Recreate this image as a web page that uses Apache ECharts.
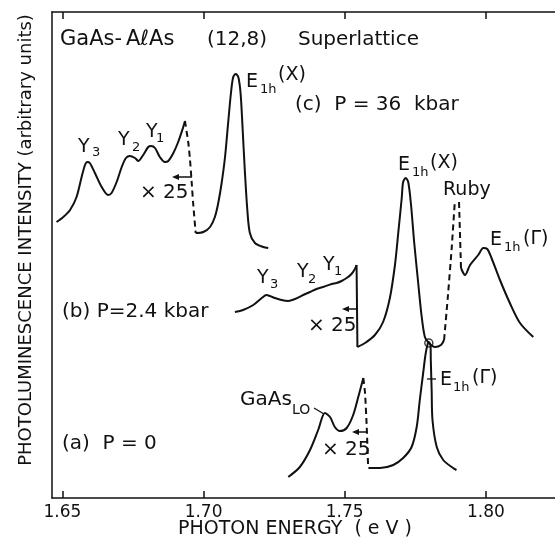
<!DOCTYPE html>
<html>
<head>
<meta charset="utf-8">
<script src="https://cdn.jsdelivr.net/npm/echarts@6/dist/echarts.min.js"></script>
<style>html,body{margin:0;padding:0;background:#fff;}#c{width:555px;height:548px;}</style>
</head>
<body>
<div id="c"></div>
<script>
// Tick labels (eV)
const xTicks = [1.65, 1.70, 1.75, 1.80];

// (c) P = 36 kbar
const cLow = [[1.6479,276],[1.6503,281],[1.6527,288],[1.6550,301],[1.6568,321],[1.6580,333],[1.6588,336],[1.6597,335],[1.6615,325],[1.6639,311],[1.6662,303],[1.6674,305],[1.6692,316],[1.6710,331],[1.6725,340],[1.6739,342],[1.6757,340],[1.6769,337],[1.6786,343],[1.6804,351],[1.6814,352],[1.6828,350],[1.6845,341],[1.6863,336],[1.6875,337],[1.6893,345],[1.6910,356],[1.6928,371],[1.6934,377]];
const cDash = [[1.6934,377],[1.6946,355],[1.6952,338],[1.6958,315],[1.6963,295],[1.6972,265]];
const cMain = [[1.6972,265],[1.6999,266],[1.7023,271],[1.7040,281],[1.7052,295],[1.7064,315],[1.7076,341],[1.7087,375],[1.7097,405],[1.7105,421],[1.7114,424],[1.7123,421],[1.7131,405],[1.7138,371],[1.7146,328],[1.7155,288],[1.7164,265],[1.7182,255],[1.7211,251],[1.7229,250]];

// (b) P = 2.4 kbar
const bLow = [[1.7111,186],[1.7140,188],[1.7176,193],[1.7206,200],[1.7223,203],[1.7235,202],[1.7253,200],[1.7276,198],[1.7300,197],[1.7324,199],[1.7353,203],[1.7377,206],[1.7400,209],[1.7424,211],[1.7454,214],[1.7471,215],[1.7489,217],[1.7507,220],[1.7524,224],[1.7536,229],[1.7542,233]];
const bDrop = [[1.7542,233],[1.7545,151]];
const bMain = [[1.7545,151],[1.7572,155],[1.7607,163],[1.7636,176],[1.7660,200],[1.7678,233],[1.7690,266],[1.7702,300],[1.7707,316],[1.7716,320],[1.7725,316],[1.7735,293],[1.7746,256],[1.7760,216],[1.7772,183],[1.7784,161],[1.7798,155],[1.7820,151],[1.7841,153],[1.7852,158]];
const bRubyUp = [[1.7852,158],[1.7865,200],[1.7879,250],[1.7890,296]];
const bRubyDown = [[1.7905,296],[1.7912,230]];
const bGamma = [[1.7912,230],[1.7920,225],[1.7926,223],[1.7944,233],[1.7973,243],[1.7991,250],[1.8005,249],[1.8020,240],[1.8050,218],[1.8085,195],[1.8121,175],[1.8168,161]];

// (a) P = 0
const aLow = [[1.7300,21],[1.7341,31],[1.7377,48],[1.7406,68],[1.7430,85],[1.7448,81],[1.7465,71],[1.7483,67],[1.7507,70],[1.7530,83],[1.7548,101],[1.7566,120]];
const aDash = [[1.7566,120],[1.7572,105],[1.7578,71],[1.7583,31]];
const aMain = [[1.7584,30],[1.7625,30],[1.7672,33],[1.7707,40],[1.7737,51],[1.7755,71],[1.7766,98],[1.7778,125],[1.7786,143],[1.7793,153],[1.7798,156],[1.7804,153],[1.7805,138],[1.7808,108],[1.7811,78],[1.7826,51],[1.7849,38],[1.7884,30],[1.7896,28]];
const crossPoint = [[1.7798,155]];

const INK = '#111';
const FONT = '"DejaVu Sans"';

function solid(data, smooth) {
  return {type:'line', data, showSymbol:false, smooth: smooth === undefined ? 0.3 : smooth,
    lineStyle:{color:INK, width:2}, silent:true, z:3};
}
function dashed(data) {
  return {type:'line', data, showSymbol:false, smooth:0.2,
    lineStyle:{color:INK, width:2, type:[6,4]}, silent:true, z:3};
}
function T(s, x, cy, size, align) {
  return {type:'text', x:x, y:cy, silent:true, z:10,
    style:{text:s, font: size + 'px ' + FONT, fill:INK,
      textAlign: align || 'left', align: align || 'left',
      textVerticalAlign:'middle', verticalAlign:'middle'}};
}
function L(x1,y1,x2,y2,w) {
  return {type:'line', silent:true, z:10, shape:{x1,y1,x2,y2}, style:{stroke:INK, lineWidth:w||1.5}};
}
function arrowLeft(x1, x2, y) {
  return [L(x1+5, y, x2, y, 1.5),
    {type:'polygon', silent:true, z:10, shape:{points:[[x1,y],[x1+7,y-3],[x1+7,y+3]]}, style:{fill:INK}}];
}

const chart = echarts.init(document.getElementById('c'), null, {renderer:'canvas'});

const graphics = [
  // title
  T('GaAs-', 60, 40, 21), T('AℓAs', 126, 40, 21), T('(12,8)', 207, 40, 20), T('Superlattice', 298, 40, 20),
  // (c)
  T('E', 246, 82, 19), T('1h', 260, 90, 13), T('(X)', 278, 75, 19),
  T('(c)  P = 36  kbar', 295, 105, 20),
  T('Y', 78, 147, 19), T('3', 92, 153, 13),
  T('Y', 118, 140, 19), T('2', 132, 148, 13),
  T('Y', 146, 132, 19), T('1', 156, 139, 13),
  T('× 25', 140, 193, 20),
  ...arrowLeft(172, 192, 177),
  // (b)
  T('E', 398, 165, 19), T('1h', 412, 173, 13), T('(X)', 430, 163, 19),
  T('Ruby', 443, 190, 19),
  T('E', 490, 240, 19), T('1h', 504, 248, 13), T('(Γ)', 523, 239, 19),
  T('Y', 257, 278, 19), T('3', 270, 285, 13),
  T('Y', 297, 272, 19), T('2', 308, 280, 13),
  T('Y', 323, 265, 19), T('1', 334, 272, 13),
  T('× 25', 308, 326, 20),
  ...arrowLeft(342, 357, 309),
  T('(b) P=2.4 kbar', 62, 312, 20),
  // (a)
  T('GaAs', 240, 400, 20), T('LO', 292, 410, 14),
  L(314, 408, 324, 414, 1.3),
  T('× 25', 322, 450, 20),
  ...arrowLeft(352, 367, 432),
  T('E', 440, 380, 19), T('1h', 453, 388, 13), T('(Γ)', 472, 378, 19),
  L(427, 379, 436, 379, 1.3),
  T('(a)  P = 0', 62, 444, 20),
  // axis titles
  T('PHOTON ENERGY  ( e V )', 295, 529, 19, 'center'),
  {type:'text', x:26, y:240, rotation: Math.PI/2, silent:true, z:10,
   style:{text:'PHOTOLUMINESCENCE INTENSITY (arbitrary units)', font:'18px ' + FONT, fill:INK,
     textAlign:'center', align:'center', textVerticalAlign:'middle', verticalAlign:'middle'}}
];

const axisCommon = {
  type:'value', min:1.6463, max:1.8245,
  axisLine:{show:true, lineStyle:{color:INK, width:1.5}},
  axisTick:{show:true, inside:true, length:7, customValues:xTicks, lineStyle:{color:INK, width:1.5}},
  splitLine:{show:false}
};

chart.setOption({
  animation:false,
  backgroundColor:'#fff',
  grid:{left:52, right:0, top:12, bottom:50},
  xAxis:[
    Object.assign({}, axisCommon, {position:'bottom',
      axisLabel:{show:true, customValues:xTicks, margin:6, color:INK, fontSize:17, fontFamily:FONT,
        formatter:(v)=>v.toFixed(2)}}),
    Object.assign({}, axisCommon, {position:'top', axisLabel:{show:false}})
  ],
  yAxis:{type:'value', min:0, max:486,
    axisLine:{show:true, lineStyle:{color:INK, width:1.5}},
    axisTick:{show:false}, axisLabel:{show:false}, splitLine:{show:false}},
  series:[
    solid(cLow), dashed(cDash), solid(cMain),
    solid(bLow), solid(bDrop, false), solid(bMain), dashed(bRubyUp), dashed(bRubyDown), solid(bGamma),
    solid(aLow), dashed(aDash), solid(aMain),
    {type:'scatter', data:crossPoint, symbol:'circle', symbolSize:8, silent:true, z:5,
      itemStyle:{color:'rgba(0,0,0,0)', borderColor:INK, borderWidth:1.5}}
  ],
  graphic:graphics
});
</script>
</body>
</html>
